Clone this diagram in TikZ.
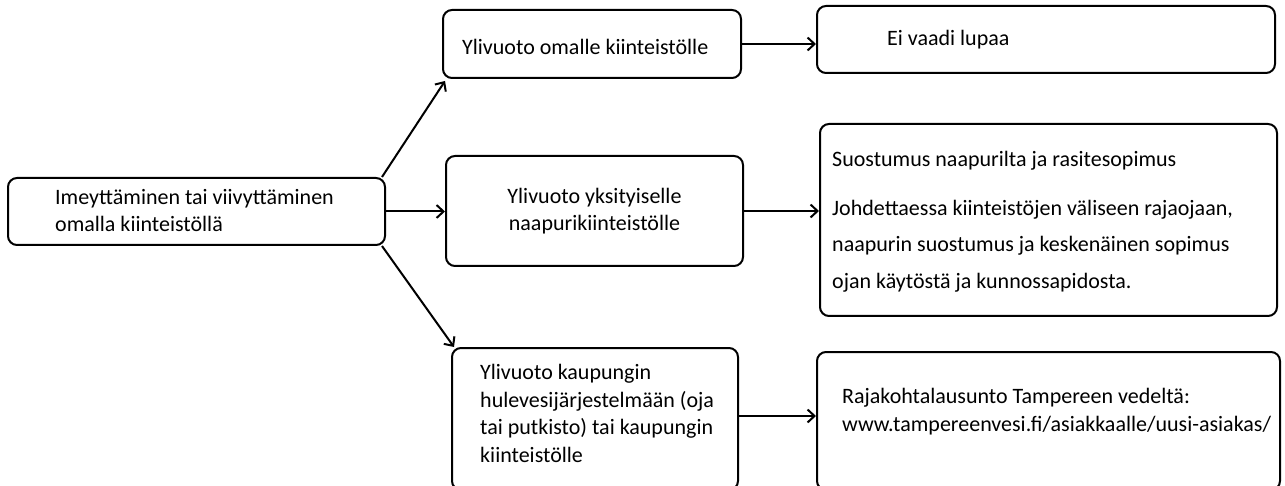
\documentclass[tikz,border=0pt]{standalone}
\usepackage{fontspec}
\setmainfont{Carlito}
\usetikzlibrary{arrows.meta}
\begin{document}
\begin{tikzpicture}[x=1pt,y=-1pt,
  box/.style={draw, line width=2pt, rounded corners=9pt, inner sep=0pt},
  txt/.style={inner sep=0pt, anchor=base west, align=left, font=\fontsize{22}{27.5}\selectfont},
  arr/.style={line width=2pt, -{Straight Barb[length=7pt,width=13pt]}}]
\useasboundingbox (0,0) rectangle (1285,486);
% boxes
\node[box, minimum width=377pt, minimum height=67pt] (A) at (196.5,211.5) {};
\node[box, minimum width=298pt, minimum height=68pt] (B1) at (592,44) {};
\node[box, minimum width=458pt, minimum height=67pt] (C1) at (1046,39.5) {};
\node[box, minimum width=297pt, minimum height=110pt] (B2) at (594.5,211) {};
\node[box, minimum width=457pt, minimum height=192pt] (C2) at (1048.5,220) {};
\node[box, minimum width=286pt, minimum height=142pt] (B3) at (595,419) {};
\node[box, minimum width=463pt, minimum height=138pt] (C3) at (1048.5,421) {};
% texts (anchor = baseline of last line)
\node[txt] (tA) at (55,232) {Imeyttäminen tai viivyttäminen\\omalla kiinteistöllä};
\node[txt] (tB1) at (462,55) {Ylivuoto omalle kiinteistölle};
\node[txt] (tC1) at (887,46) {Ei vaadi lupaa};
\node[txt, anchor=base, align=center] (tB2) at (594.5,231) {Ylivuoto yksityiselle\\naapurikiinteistölle};
\node[txt, font=\fontsize{22}{36.5}\selectfont] (tC2) at (832,288.5) {Suostumus naapurilta ja rasitesopimus\\[13pt]Johdettaessa kiinteistöjen väliseen rajaojaan,\\naapurin suostumus ja keskenäinen sopimus\\ojan käytöstä ja kunnossapidosta.};
\node[txt] (tB3) at (480,462) {Ylivuoto kaupungin\\hulevesijärjestelmään (oja\\tai putkisto) tai kaupungin\\kiinteistölle};
\node[txt] (tC3) at (842,431) {Rajakohtalausunto Tampereen vedeltä:\\www.tampereenvesi.fi/asiakkaalle/uusi-asiakas/};
% connectors
\draw[arr] (A.east) -- (A.east -| B2.west);
\draw[arr] ([xshift=-4pt]A.north east) -- ([xshift=3pt,yshift=-2pt]B1.south west);
\draw[arr] ([xshift=-4pt]A.south east) -- ([xshift=3pt]B3.north west);
\draw[arr] (B1.east) -- (B1.east -| C1.west);
\draw[arr] (B2.east) -- (B2.east -| C2.west);
\draw[arr] ([yshift=3pt]B3.east) -- ([yshift=3pt]B3.east -| C3.west);
\end{tikzpicture}
\end{document}
